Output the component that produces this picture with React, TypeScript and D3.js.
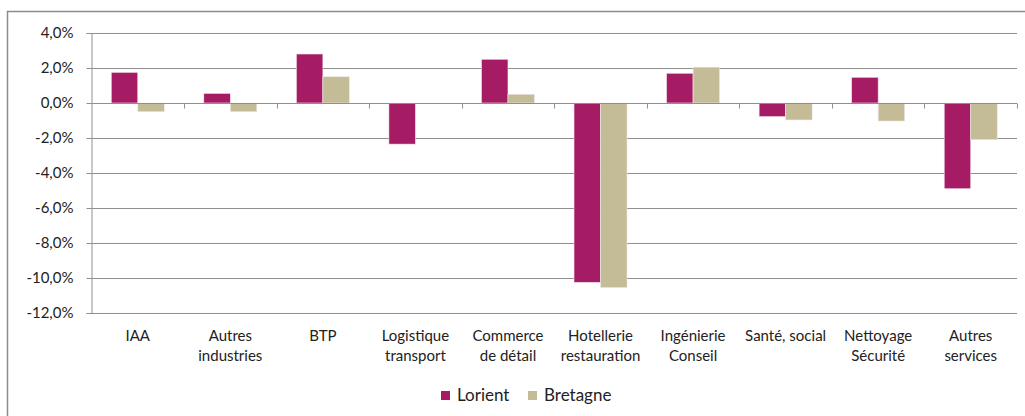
import React, { useEffect, useRef } from "react";
import * as d3 from "d3";

const categories = [
  ["IAA"],
  ["Autres", "industries"],
  ["BTP"],
  ["Logistique", "transport"],
  ["Commerce", "de détail"],
  ["Hotellerie", "restauration"],
  ["Ingénierie", "Conseil"],
  ["Santé, social"],
  ["Nettoyage", "Sécurité"],
  ["Autres", "services"],
];
const lorient = [1.75, 0.55, 2.8, -2.35, 2.5, -10.25, 1.7, -0.78, 1.47, -4.9];
const bretagne = [-0.5, -0.5, 1.5, 0, 0.5, -10.55, 2.05, -0.97, -1.03, -2.1];
const yTicks = [4, 2, 0, -2, -4, -6, -8, -10, -12];
const seriesNames = ["Lorient", "Bretagne"];
const colors = ["#A61C64", "#C4BC96"];

const W = 1025;
const H = 416;
const font = "'Liberation Sans Narrow', Lato, 'Open Sans', sans-serif";

function App() {
  const svgRef = useRef<SVGSVGElement>(null);

  useEffect(() => {
    const svg = d3.select(svgRef.current);
    svg.selectAll("*").remove();

    // chart frame
    svg.append("path")
      .attr("d", `M7.5,${H} V11.5 H${W}`)
      .attr("fill", "none")
      .attr("stroke", "#8c8c8c")
      .attr("stroke-width", 1.5);

    const left = 91.5, right = 1017, top = 33, bottom = 313;

    const x = d3.scaleBand<number>()
      .domain(d3.range(categories.length))
      .range([left, right])
      .paddingInner(0)
      .paddingOuter(0);
    const y = d3.scaleLinear().domain([-12, 4]).range([bottom, top]);

    const step = x.step();
    const groupW = step * 0.573;
    const bw = groupW / 2;

    // gridlines
    svg.append("g")
      .selectAll("line")
      .data(yTicks)
      .join("line")
      .attr("x1", left)
      .attr("x2", right)
      .attr("y1", (d) => Math.round(y(d)) + 0.5)
      .attr("y2", (d) => Math.round(y(d)) + 0.5)
      .attr("stroke", "#8f8f8f")
      .attr("stroke-width", 1);

    // y axis
    const yAxis = d3.axisLeft(y)
      .tickValues(yTicks)
      .tickSize(5)
      .tickPadding(13)
      .tickFormat((d) => d3.format(".1f")(d as number).replace(".", ",").replace("−", "-") + "%");
    const ga = svg.append("g").attr("transform", `translate(${left},0)`).call(yAxis);
    ga.select(".domain").attr("stroke", "#8f8f8f");
    ga.selectAll(".tick line").attr("stroke", "#8f8f8f");
    ga.selectAll(".tick text")
      .attr("font-family", font)
      .attr("font-size", 15)
      .attr("fill", "#222");

    // bars
    const series = [lorient, bretagne];
    series.forEach((vals, s) => {
      svg.append("g")
        .selectAll("rect")
        .data(vals)
        .join("rect")
        .attr("x", (_, i) => (x(i) as number) + (step - groupW) / 2 + s * bw)
        .attr("y", (d) => y(Math.max(0, d)))
        .attr("width", bw)
        .attr("height", (d) => Math.abs(y(d) - y(0)))
        .attr("fill", colors[s])
        .attr("stroke", "#f3e6ee")
        .attr("stroke-width", 0.6);
    });

    // zero axis with category ticks
    const y0 = Math.round(y(0)) + 0.5;
    svg.append("line")
      .attr("x1", left).attr("x2", right)
      .attr("y1", y0).attr("y2", y0)
      .attr("stroke", "#8f8f8f");
    svg.append("g")
      .selectAll("line")
      .data(d3.range(1, categories.length + 1))
      .join("line")
      .attr("x1", (i) => Math.round(left + i * step) + 0.5)
      .attr("x2", (i) => Math.round(left + i * step) + 0.5)
      .attr("y1", y0)
      .attr("y2", y0 + 5)
      .attr("stroke", "#8f8f8f");

    // category labels
    const lab = svg.append("g")
      .selectAll("text")
      .data(categories)
      .join("text")
      .attr("x", (_, i) => (x(i) as number) + step / 2)
      .attr("y", 341)
      .attr("text-anchor", "middle")
      .attr("font-family", font)
      .attr("font-size", 15)
      .attr("fill", "#222");
    lab.selectAll("tspan")
      .data((d) => d)
      .join("tspan")
      .attr("x", function () {
        return (this.parentNode as SVGTextElement).getAttribute("x");
      })
      .attr("dy", (_, j) => (j === 0 ? 0 : 20))
      .text((d) => d);

    // legend
    const lx = [441, 528];
    const lg = svg.append("g")
      .selectAll("g")
      .data(seriesNames)
      .join("g")
      .attr("transform", (_, i) => `translate(${lx[i]},391)`);
    lg.append("rect")
      .attr("width", 9)
      .attr("height", 9)
      .attr("fill", (_, i) => colors[i]);
    lg.append("text")
      .attr("x", 16)
      .attr("y", 10)
      .attr("font-family", font)
      .attr("font-size", 17)
      .attr("fill", "#222")
      .text((d) => d);
  }, []);

  return (
    <svg
      ref={svgRef}
      width={W}
      height={H}
      style={{ position: "absolute", left: 0, top: 0, background: "#fff" }}
    />
  );
}

export default App;
